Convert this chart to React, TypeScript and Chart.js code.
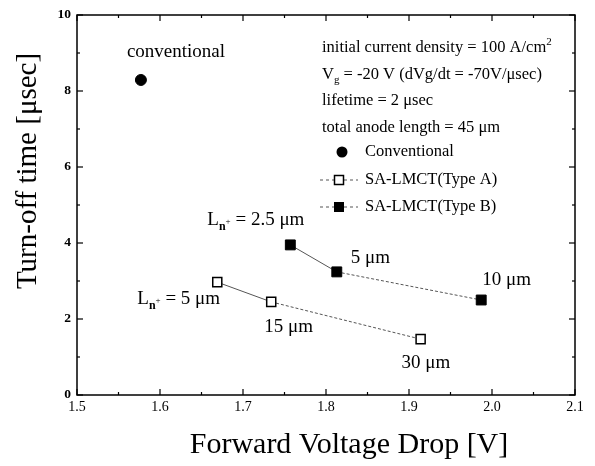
import React, { useEffect, useRef } from "react";
import { Chart, registerables } from "chart.js";

Chart.register(...registerables);

// ---- data ----
const xTicks = [1.5, 1.6, 1.7, 1.8, 1.9, 2.0, 2.1];
const yTicks = [0, 2, 4, 6, 8, 10];
const conventionalV = [1.577];
const conventionalT = [8.29];
const typeAV = [1.669, 1.734, 1.914];
const typeAT = [2.97, 2.45, 1.47];
const typeBV = [1.757, 1.813, 1.987];
const typeBT = [3.95, 3.24, 2.5];
const conventionalLabel = "conventional";
const typeALabels = ["5 μm", "15 μm", "30 μm"];
const typeBLabels = ["2.5 μm", "5 μm", "10 μm"];
const infoLines = [
  "initial current density = 100 A/cm",
  " = -20 V (dVg/dt = -70V/μsec)",
  "lifetime = 2 μsec",
  "total anode length = 45 μm",
];
const legendNames = ["Conventional", "SA-LMCT(Type A)", "SA-LMCT(Type B)"];
const xTitle = "Forward Voltage Drop [V]";
const yTitle = "Turn-off time [μsec]";

const FONT = '"Liberation Serif", "Times New Roman", serif';

type Part = { t: string; size: number; dy?: number; bold?: boolean };

function drawRich(ctx: CanvasRenderingContext2D, x: number, y: number, parts: Part[]) {
  let cx = x;
  for (const p of parts) {
    ctx.font = `${p.bold ? "bold " : ""}${p.size}px ${FONT}`;
    ctx.fillText(p.t, cx, y + (p.dy || 0));
    cx += ctx.measureText(p.t).width;
  }
}

function lnParts(rest: string, size: number): Part[] {
  return [
    { t: "L", size },
    { t: "n", size: 12, dy: 5, bold: true },
    { t: "+", size: 9, dy: -1 },
    { t: " = " + rest, size },
  ];
}

const overlayPlugin = {
  id: "overlay",
  afterDraw(chart: any) {
    const ctx: CanvasRenderingContext2D = chart.ctx;
    const xs = chart.scales.x;
    const ys = chart.scales.y;
    const a = chart.chartArea;
    ctx.save();
    ctx.strokeStyle = "#000";
    ctx.fillStyle = "#000";
    // frame
    ctx.lineWidth = 1.5;
    ctx.strokeRect(a.left, a.top, a.right - a.left, a.bottom - a.top);
    // ticks
    ctx.lineWidth = 1.2;
    const xMinor: number[] = [];
    for (let i = 0; i < xTicks.length - 1; i++) xMinor.push((xTicks[i] + xTicks[i + 1]) / 2);
    const yMinor: number[] = [];
    for (let i = 0; i < yTicks.length - 1; i++) yMinor.push((yTicks[i] + yTicks[i + 1]) / 2);
    const tick = (x1: number, y1: number, x2: number, y2: number) => {
      ctx.beginPath();
      ctx.moveTo(x1, y1);
      ctx.lineTo(x2, y2);
      ctx.stroke();
    };
    xTicks.forEach((v) => {
      const px = xs.getPixelForValue(v);
      tick(px, a.bottom, px, a.bottom - 6);
      tick(px, a.top, px, a.top + 6);
    });
    xMinor.forEach((v) => {
      const px = xs.getPixelForValue(v);
      tick(px, a.bottom, px, a.bottom - 3);
      tick(px, a.top, px, a.top + 3);
    });
    yTicks.forEach((v) => {
      const py = ys.getPixelForValue(v);
      tick(a.left, py, a.left + 6, py);
      tick(a.right, py, a.right - 6, py);
    });
    yMinor.forEach((v) => {
      const py = ys.getPixelForValue(v);
      tick(a.left, py, a.left + 3, py);
      tick(a.right, py, a.right - 3, py);
    });

    // annotations
    ctx.textAlign = "left";
    ctx.textBaseline = "alphabetic";
    const px = (v: number) => xs.getPixelForValue(v);
    const py = (v: number) => ys.getPixelForValue(v);
    const S = 19;
    drawRich(ctx, px(conventionalV[0]) - 14, py(conventionalT[0]) - 23, [{ t: conventionalLabel, size: S }]);
    drawRich(ctx, px(typeBV[0]) - 83, py(typeBT[0]) - 20, lnParts(typeBLabels[0], S));
    drawRich(ctx, px(typeBV[1]) + 14, py(typeBT[1]) - 9, [{ t: typeBLabels[1], size: S }]);
    drawRich(ctx, px(typeBV[2]) + 1, py(typeBT[2]) - 15, [{ t: typeBLabels[2], size: S }]);
    drawRich(ctx, px(typeAV[0]) - 80, py(typeAT[0]) + 22, lnParts(typeALabels[0], S));
    drawRich(ctx, px(typeAV[1]) - 7, py(typeAT[1]) + 30, [{ t: typeALabels[1], size: S }]);
    drawRich(ctx, px(typeAV[2]) - 19, py(typeAT[2]) + 29, [{ t: typeALabels[2], size: S }]);

    // info block
    const L = 16.5;
    const ix = 322;
    drawRich(ctx, ix, 52, [
      { t: infoLines[0], size: L },
      { t: "2", size: 11, dy: -7 },
    ]);
    drawRich(ctx, ix, 79, [
      { t: "V", size: L },
      { t: "g", size: 11, dy: 4 },
      { t: infoLines[1], size: L },
    ]);
    drawRich(ctx, ix, 105, [{ t: infoLines[2], size: L }]);
    drawRich(ctx, ix, 132, [{ t: infoLines[3], size: L }]);

    // legend
    const lx = 339;
    const tx = 365;
    const rows = [152, 180, 207];
    ctx.beginPath();
    ctx.arc(lx + 3, rows[0], 5.5, 0, Math.PI * 2);
    ctx.fill();
    for (let r = 1; r < 3; r++) {
      ctx.save();
      ctx.strokeStyle = "#555";
      ctx.lineWidth = 1;
      ctx.setLineDash([3, 3]);
      tick(320, rows[r], 358, rows[r]);
      ctx.restore();
      if (r === 1) {
        ctx.fillStyle = "#fff";
        ctx.fillRect(lx - 4.5, rows[r] - 4.5, 9, 9);
        ctx.lineWidth = 1.5;
        ctx.strokeRect(lx - 4.5, rows[r] - 4.5, 9, 9);
        ctx.fillStyle = "#000";
      } else {
        ctx.fillRect(lx - 5, rows[r] - 5, 10, 10);
      }
    }
    ctx.textBaseline = "middle";
    rows.forEach((ry, i) => drawRich(ctx, tx, ry, [{ t: legendNames[i], size: L }]));

    // axis titles
    ctx.textBaseline = "alphabetic";
    ctx.textAlign = "center";
    ctx.font = `30px ${FONT}`;
    ctx.fillText(xTitle, 349, 453);
    ctx.save();
    ctx.translate(36, 171);
    ctx.rotate(-Math.PI / 2);
    ctx.font = `29px ${FONT}`;
    ctx.fillText(yTitle, 0, 0);
    ctx.restore();
    ctx.restore();
  },
};

export default function App() {
  const ref = useRef<HTMLCanvasElement | null>(null);
  useEffect(() => {
    document.body.style.margin = "0";
    const canvas = ref.current!;
    const lineColor = "#555";
    const segDash = (ctx: any) => (ctx.p0DataIndex === 1 ? [3, 2] : undefined);
    const chart = new Chart(canvas, {
      type: "scatter",
      data: {
        datasets: [
          {
            label: legendNames[0],
            data: conventionalV.map((v, i) => ({ x: v, y: conventionalT[i] })),
            pointStyle: "circle",
            pointRadius: 5.5,
            pointBackgroundColor: "#000",
            pointBorderColor: "#000",
            showLine: false,
          },
          {
            label: legendNames[1],
            data: typeAV.map((v, i) => ({ x: v, y: typeAT[i] })),
            showLine: true,
            borderColor: lineColor,
            borderWidth: 1,
            segment: { borderDash: segDash },
            pointStyle: "rect",
            pointRadius: 6.4,
            pointBorderWidth: 1.5,
            pointBackgroundColor: "#fff",
            pointBorderColor: "#000",
          },
          {
            label: legendNames[2],
            data: typeBV.map((v, i) => ({ x: v, y: typeBT[i] })),
            showLine: true,
            borderColor: lineColor,
            borderWidth: 1,
            segment: { borderDash: segDash },
            pointStyle: "rect",
            pointRadius: 7,
            pointBorderWidth: 1,
            pointBackgroundColor: "#000",
            pointBorderColor: "#000",
          },
        ],
      },
      options: {
        animation: false,
        responsive: false,
        events: [],
        layout: { padding: { left: 0, right: 20, top: 15, bottom: 0 } },
        plugins: { legend: { display: false }, tooltip: { enabled: false } },
        scales: {
          x: {
            type: "linear",
            min: xTicks[0],
            max: xTicks[xTicks.length - 1],
            grid: { display: false, drawTicks: false },
            border: { display: false },
            afterFit: (s: any) => {
              s.height = 71;
            },
            afterBuildTicks: (s: any) => {
              s.ticks = xTicks.map((v) => ({ value: v }));
            },
            ticks: {
              padding: 4,
              color: "#000",
              font: { family: FONT, size: 14 },
              callback: (v: any) => Number(v).toFixed(1),
            },
          },
          y: {
            type: "linear",
            min: yTicks[0],
            max: yTicks[yTicks.length - 1],
            grid: { display: false, drawTicks: false },
            border: { display: false },
            afterFit: (s: any) => {
              s.width = 77;
            },
            afterBuildTicks: (s: any) => {
              s.ticks = yTicks.map((v) => ({ value: v }));
            },
            ticks: {
              padding: 6,
              color: "#000",
              font: { family: FONT, size: 13.5, weight: "bold" },
              callback: (v: any) => String(v),
            },
          },
        },
      },
      plugins: [overlayPlugin],
    } as any);
    return () => chart.destroy();
  }, []);
  return (
    <div style={{ width: 595, height: 466, background: "#fff" }}>
      <canvas ref={ref} width={595} height={466} style={{ display: "block" }} />
    </div>
  );
}
